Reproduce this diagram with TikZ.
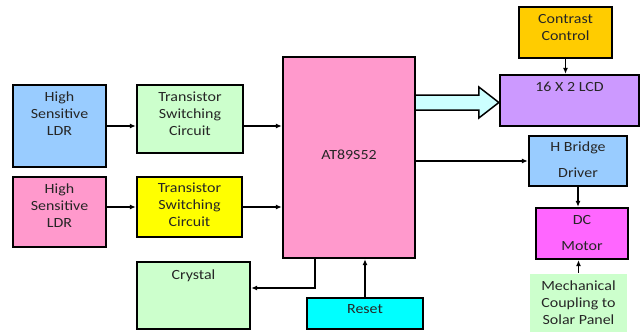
\documentclass[tikz,border=0pt]{standalone}
\usepackage{fontspec}
\setmainfont{Carlito}[FakeStretch=1.14]
\usepackage{tikz}
\usetikzlibrary{arrows.meta,calc}
\definecolor{ldrblue}{RGB}{153,204,255}
\definecolor{ldrpink}{RGB}{255,153,204}
\definecolor{swgreen}{RGB}{204,255,204}
\definecolor{swyellow}{RGB}{255,255,0}
\definecolor{mcupink}{RGB}{255,153,204}
\definecolor{ctrorange}{RGB}{255,204,0}
\definecolor{lcdviolet}{RGB}{204,153,255}
\definecolor{buscyan}{RGB}{204,255,255}
\definecolor{motormag}{RGB}{255,102,255}
\definecolor{rstcyan}{RGB}{0,255,255}

\begin{document}
\begin{tikzpicture}[x=1pt, y=-1pt,
  box/.style={draw=black, line width=2.3pt, inner sep=3pt, align=center,
              font=\fontsize{14}{17}\selectfont, text=black!85},
  con/.style={-{Latex[length=6pt,width=5pt]}, line width=1.2pt}]
  \useasboundingbox (0,0) rectangle (640,332);
  % sensors
  \node[box, fill=ldrblue, minimum width=93, minimum height=82, text depth=25] (ldr1) at (59.5,126) {High\\Sensitive\\LDR};
  \node[box, fill=ldrpink, minimum width=93, minimum height=70, text depth=13] (ldr2) at (59.5,212) {High\\Sensitive\\LDR};
  % switching
  \node[box, fill=swgreen, minimum width=106, minimum height=68, text depth=11] (tsc1) at (190,119) {Transistor\\Switching\\Circuit};
  \node[box, fill=swyellow, minimum width=105, minimum height=60, text depth=5] (tsc2) at (189.5,207) {Transistor\\Switching\\Circuit};
  % controller
  \node[box, fill=mcupink, minimum width=132, minimum height=201, text depth=5] (mcu) at (349,157.5) {AT89S52};
  \node[box, fill=swgreen, minimum width=113, minimum height=67, text depth=42] (xtal) at (193.5,295.5) {Crystal};
  \node[box, fill=rstcyan, minimum width=116, minimum height=31, text depth=8] (rst) at (365,313.5) {Reset};
  % outputs
  \node[box, fill=ctrorange, minimum width=93, minimum height=51, text depth=11] (ctr) at (565.5,32.5) {Contrast\\Control};
  \node[box, fill=lcdviolet, minimum width=139, minimum height=51, text depth=28] (lcd) at (569.5,100.5) {16 X 2 LCD};
  \node[box, fill=ldrblue, minimum width=98, minimum height=50, text depth=3] (hbr) at (578,161) {H Bridge\\[9pt]Driver};
  \node[box, fill=motormag, minimum width=92, minimum height=51, text depth=2] (mot) at (582,233.5) {DC\\[9pt]Motor};
  \node[box, draw=none, fill=swgreen, minimum width=97, minimum height=58, text depth=1] (mech) at (578.5,303) {Mechanical\\Coupling to\\Solar Panel};
  % connectors
  \draw[con] (ldr1.east) -- (ldr1.east -| tsc1.west);
  \draw[con] (tsc1.east |- ldr1.east) -- (ldr1.east -| mcu.west);
  \draw[con] (tsc2.west -| ldr2.east) -- (tsc2.west);
  \draw[con] (tsc2.east) -- (tsc2.east -| mcu.west);
  \draw[con] ([xshift=-34pt]mcu.south) |- ([yshift=7.5pt]xtal.east);
  \draw[con] (rst.north) -- (rst.north |- mcu.south);
  \draw[con] (ctr.south) -- (ctr.south |- lcd.north);
  \draw[con] (mcu.east |- hbr.west) -- (hbr.west);
  \draw[con] (hbr.south) -- (hbr.south |- mot.north);
  \draw[con] (mech.north) -- (mech.north |- mot.south);
  % data bus to display
  \draw[line width=1.5pt, fill=buscyan, line join=miter]
    ($(mcu.east |- lcd.west)+(0,-5.5)$) -- ($(lcd.west)+(-20,-5.5)$) -- ($(lcd.west)+(-20,-13.5)$)
    -- ($(lcd.west)+(0,2)$) -- ($(lcd.west)+(-20,17.5)$) -- ($(lcd.west)+(-20,9.5)$)
    -- ($(mcu.east |- lcd.west)+(0,9.5)$);
\end{tikzpicture}
\end{document}
